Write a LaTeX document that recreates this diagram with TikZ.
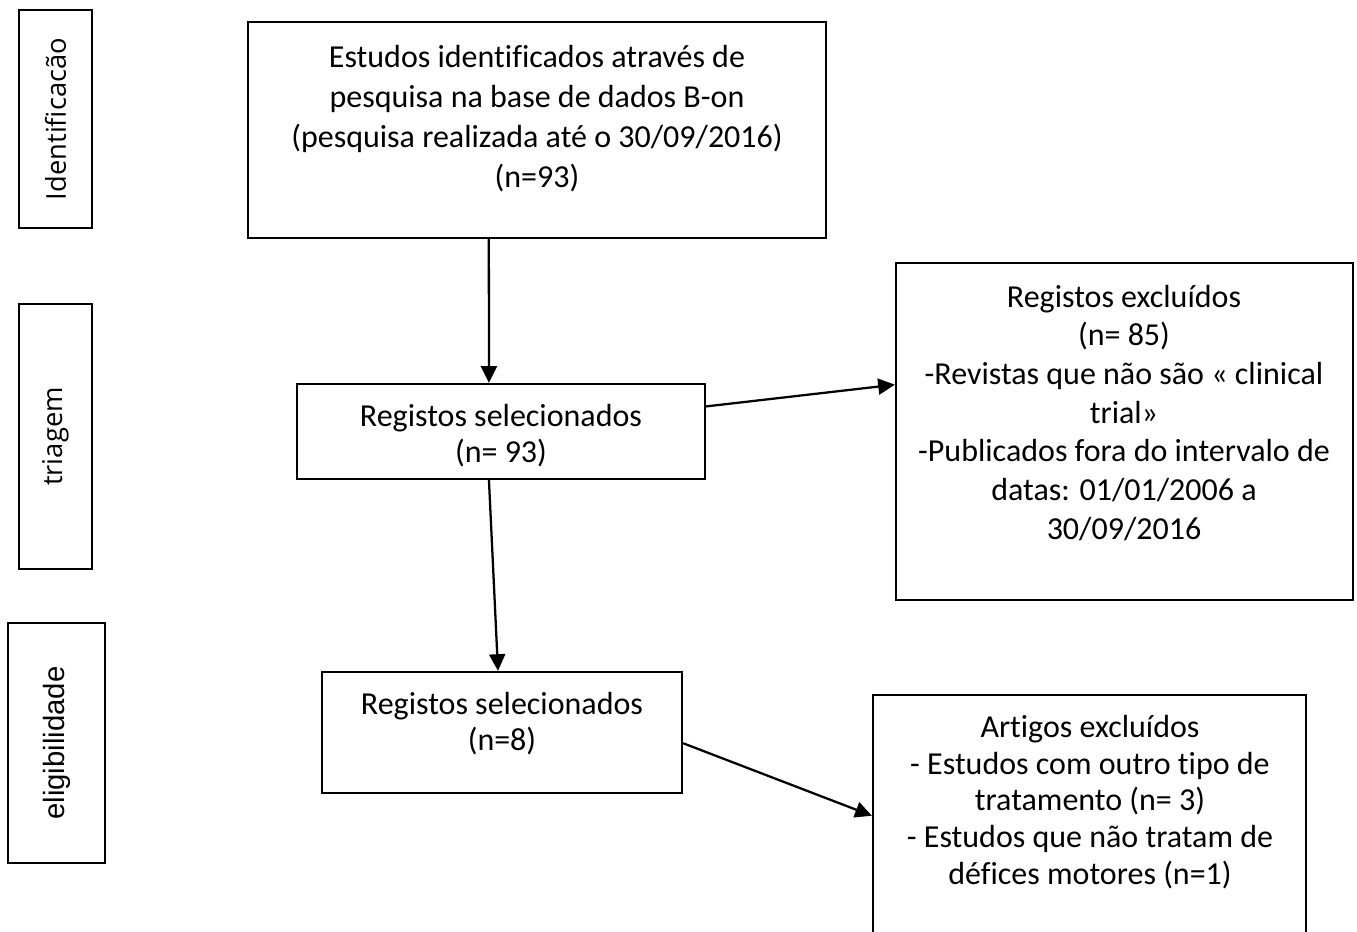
\documentclass[tikz,border=0pt]{standalone}
\usepackage{fontspec}
\setmainfont{Carlito}[Ligatures=NoCommon]
\newfontfamily\osans{Open Sans}
\newfontfamily\lsans{Liberation Sans}
\usetikzlibrary{fit,arrows.meta,calc}
\begin{document}
\begin{tikzpicture}[x=0.75pt,y=-0.75pt,
  box/.style={draw=black, line width=1.7pt, inner sep=0pt},
  txt/.style={inner sep=0pt, align=center, anchor=north},
  side/.style={inner sep=0pt, rotate=90},
  arr/.style={line width=1.7pt, -{Triangle[length=12.5pt,width=12pt]}}]
\useasboundingbox (0,0) rectangle (1357,932);
\clip (0,0) rectangle (1357,932);
% side labels
\node[box, fit={(19,10)(92,228)}] (l1) {};
\node[side, font=\osans\fontsize{20.5pt}{24pt}\selectfont] (l1t) at (l1.center) {Identificacão};
\node[box, fit={(19,304)(92,569)}] (l2) {};
\node[side, font=\osans\fontsize{20.5pt}{24pt}\selectfont] (l2t) at (l2.center) {triagem};
\node[box, fit={(8,623)(105,863)}] (l3) {};
\node[side, font=\lsans\fontsize{22pt}{26pt}\selectfont] (l3t) at (l3.center) {eligibilidade};
% main boxes
\node[box, fit={(248,22)(826,238)}] (b1) {};
\node[box, fit={(297,384)(705,479)}] (b2) {};
\node[box, fit={(322,672)(682,793)}] (b3) {};
\node[box, fit={(896,263)(1353,600)}] (b4) {};
\node[box, fit={(873,695)(1306,950)}] (b5) {};
% texts
\node[txt, font=\fontsize{24pt}{30pt}\selectfont] (t1) at (537,40.3)
  {\rule{0pt}{20pt}Estudos identificados através de\\pesquisa na base de dados B-on\\(pesquisa realizada até o 30/09/2016)\\(n=93)};
\node[txt, font=\fontsize{24pt}{27.5pt}\selectfont] (t2) at (501,399.3)
  {\rule{0pt}{20pt}Registos selecionados\\(n= 93)};
\node[txt, font=\fontsize{24pt}{27.5pt}\selectfont] (t3) at (502,687.3)
  {\rule{0pt}{20pt}Registos selecionados\\(n=8)};
\node[txt, font=\fontsize{24pt}{29pt}\selectfont] (t4) at (1124,280.3)
  {\rule{0pt}{20pt}Registos excluídos\\(n= 85)\\-Revistas que não são « clinical\\trial»\\-Publicados fora do intervalo de\\datas: 01/01/2006 a\\30/09/2016};
\node[txt, font=\fontsize{24pt}{27.6pt}\selectfont] (t5) at (1090,710.3)
  {\rule{0pt}{20pt}Artigos excluídos\\- Estudos com outro tipo de\\tratamento (n= 3)\\- Estudos que não tratam de\\défices motores (n=1)};
% arrows
\draw[arr] ($(b1.south west)!0.417!(b1.south east)$) -- ($(b2.north west)!0.4706!(b2.north east)$);
\draw[arr] ($(b2.south west)!0.4706!(b2.south east)$) -- ($(b3.north west)!0.489!(b3.north east)$);
\draw[arr] ($(b2.north east)!0.242!(b2.south east)$) -- ($(b4.north west)!0.362!(b4.south west)$);
\draw[arr] ($(b3.north east)!0.587!(b3.south east)$) -- ($(b5.north west)!0.4737!(b5.south west)$);
\end{tikzpicture}
\end{document}
